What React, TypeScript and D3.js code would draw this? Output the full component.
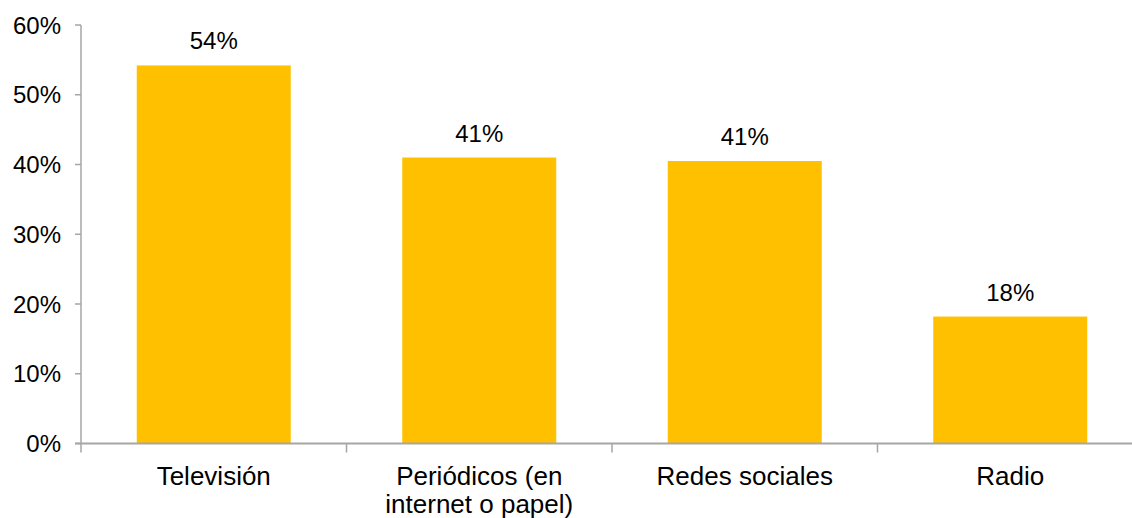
import React from 'react'
import { scaleBand, scaleLinear } from "d3";

const categories = ["Televisión", "Periódicos (en internet o papel)", "Redes sociales", "Radio"];
const categoryLines = [["Televisión"], ["Periódicos (en", "internet o papel)"], ["Redes sociales"], ["Radio"]];
const values = [0.542, 0.41, 0.405, 0.182];
const valueLabels = ["54%", "41%", "41%", "18%"];
const yTicks = [0, 0.1, 0.2, 0.3, 0.4, 0.5, 0.6];

const width = 1132;
const height = 518;
const left = 81;
const top = 25;
const bottom = 443.5;
const step = 265.5;
const axisColor = "#a6a6a6";
const font = "'Liberation Sans', Arial, sans-serif";

export default function App() {
    const x = scaleBand<string>()
        .domain(categories)
        .range([left, left + step * categories.length])
        .paddingInner(0.42)
        .paddingOuter(0.21);
    const y = scaleLinear().domain([0, 0.6]).range([bottom, top]);

    return (
        <svg width={width} height={height} style={{ position: "absolute", left: 0, top: 0 }} fontFamily={font}>
            {values.map((v, i) => (
                <g key={categories[i]}>
                    <rect x={x(categories[i])} y={y(v)} width={x.bandwidth()} height={y(0) - y(v)} fill="#ffc000" />
                    <text x={(x(categories[i]) ?? 0) + x.bandwidth() / 2} y={y(v) - 16} textAnchor="middle" fontSize={24} fill="#000">
                        {valueLabels[i]}
                    </text>
                </g>
            ))}
            {/* y axis */}
            <line x1={left} x2={left} y1={top} y2={bottom + 9} stroke={axisColor} strokeWidth={1.5} />
            {yTicks.map(t => (
                <g key={t}>
                    <line x1={left - 6} x2={left} y1={y(t)} y2={y(t)} stroke={axisColor} strokeWidth={1.5} />
                    <text x={61} y={y(t) + 8.5} textAnchor="end" fontSize={24} fill="#000">{Math.round(t * 100) + "%"}</text>
                </g>
            ))}
            {/* x axis */}
            <line x1={left - 6} x2={left + step * categories.length} y1={bottom} y2={bottom} stroke={axisColor} strokeWidth={2} />
            {categories.map((c, i) => (
                <g key={c}>
                    <line x1={left + step * (i + 1)} x2={left + step * (i + 1)} y1={bottom} y2={bottom + 9} stroke={axisColor} strokeWidth={1.5} />
                    <text x={(x(c) ?? 0) + x.bandwidth() / 2} y={485} textAnchor="middle" fontSize={26} fill="#000">
                        {categoryLines[i].map((ln, j) => (
                            <tspan key={j} x={(x(c) ?? 0) + x.bandwidth() / 2} dy={j === 0 ? 0 : 28}>{ln}</tspan>
                        ))}
                    </text>
                </g>
            ))}
        </svg>
    );
}
